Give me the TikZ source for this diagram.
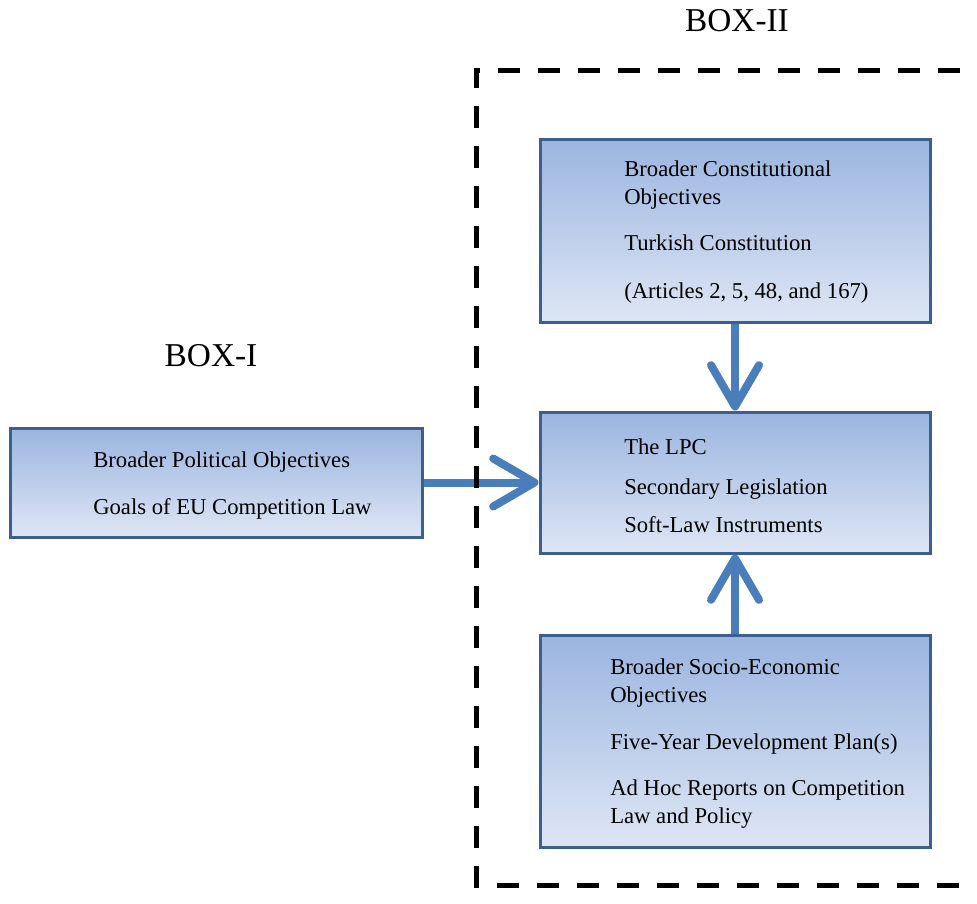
\documentclass[tikz,border=0pt]{standalone}
\usepackage{fontspec}
\setmainfont{Liberation Serif}
\usetikzlibrary{arrows.meta,positioning,calc}
\definecolor{rimblue}{HTML}{3C5F8F}
\definecolor{flowblue}{HTML}{4A7EBB}
\definecolor{shadetop}{HTML}{9BB5E0}
\definecolor{shadebot}{HTML}{DEE6F4}
\tikzset{
  panel/.style ={draw=rimblue,line width=2.25pt,top color=shadetop,bottom color=shadebot,
                 inner sep=0pt,minimum width=292.5pt},
  txt/.style   ={anchor=west,align=left,inner sep=0pt,font=\fontsize{17}{21}\selectfont},
  boxlbl/.style={inner sep=0pt,font=\fontsize{25}{30}\selectfont},
  flow/.style  ={draw=flowblue,line width=6pt,-{Straight Barb[round,length=31pt,width=36pt]}},
  frame/.style ={line width=3.75pt,dash pattern=on 16.5pt off 13.5pt},
}

\begin{document}
\begin{tikzpicture}[x=0.75pt,y=-0.75pt]
  \clip (0,0) rectangle (977,903);
  % boxes
  \node[panel,minimum height=137.25pt] (cons) at (735,230.5) {};
  \node[panel,minimum height=105.75pt] (lpc) at (735,482.5) {};
  \node[panel,minimum height=159pt] (socio) at (735,741) {};
  \node[panel,minimum width=309pt,minimum height=81.75pt] (pol) at (216,482.5) {};
  % texts
  \node[txt] (const) at (624,232) {Broader Constitutional\\ Objectives\\[13.5pt]
    Turkish Constitution\\[15pt] (Articles 2, 5, 48, and 167)};
  \node[txt] (lpct) at (624,486) {The LPC\\[9pt] Secondary Legislation\\[7.5pt] Soft-Law Instruments};
  \node[txt] (sociot) at (610,743.5) {Broader Socio-Economic\\ Objectives\\[14pt]
    Five-Year Development Plan(s)\\[13.5pt] Ad Hoc Reports on Competition\\ Law and Policy};
  \node[txt] (polt) at (93,485.5) {Broader Political Objectives\\[14pt] Goals of EU Competition Law};
  \node[boxlbl] (lblii) at (737,21) {BOX-II};
  \node[boxlbl] (lbli) at (211,356) {BOX-I};
  % arrows
  \draw[flow] (cons) -- (lpc);
  \draw[flow] (socio) -- (lpc);
  \draw[flow] (pol) -- (lpc);
  % dashed frame of box II
  \draw[frame] (1000,70) -- (476,70) -- (476,885) -- (1000,885);
\end{tikzpicture}
\end{document}
